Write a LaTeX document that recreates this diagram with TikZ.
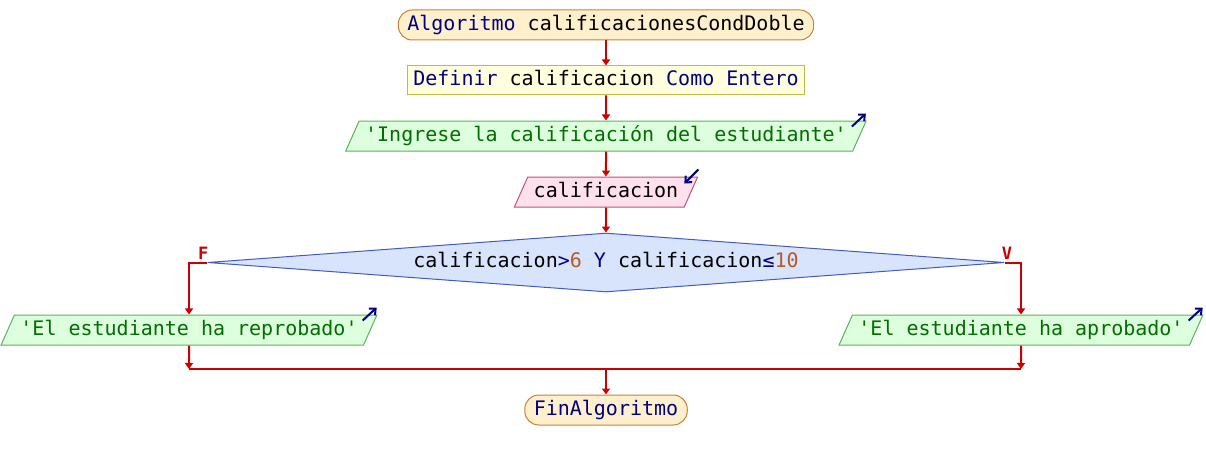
\documentclass[tikz,border=0pt]{standalone}
\usepackage{fontspec}
\setmonofont{DejaVu Sans Mono}
\usetikzlibrary{positioning, shapes.geometric, arrows.meta}
\definecolor{kwblue}{RGB}{0,0,130}
\definecolor{numbrown}{RGB}{180,90,40}
\definecolor{strgreen}{RGB}{0,110,0}
\definecolor{flowred}{RGB}{204,0,0}
\definecolor{termfill}{RGB}{255,240,205}
\definecolor{termline}{RGB}{200,130,50}
\definecolor{deffill}{RGB}{255,255,221}
\definecolor{defline}{RGB}{190,190,70}
\definecolor{outfill}{RGB}{222,255,222}
\definecolor{outline}{RGB}{90,180,90}
\definecolor{infill}{RGB}{255,225,238}
\definecolor{inline}{RGB}{190,80,130}
\definecolor{decfill}{RGB}{215,228,252}
\definecolor{decline}{RGB}{70,90,190}
\newcommand{\kw}[1]{\textcolor{kwblue}{#1}}
\newcommand{\nm}[1]{\textcolor{numbrown}{#1}}
\newcommand{\qt}{\char"0027\relax}

\begin{document}
\begin{tikzpicture}[x=0.5pt,y=-0.5pt,node distance=12.5pt,>={Triangle[width=4pt,length=3pt]},
  code/.style={font=\ttfamily\fontsize{10pt}{12pt}\selectfont,text height=7.6pt,text depth=2.2pt,inner ysep=2.6pt,line width=.5pt},
  termbox/.style={code,draw=termline,fill=termfill,rounded corners=7pt,inner xsep=4.5pt},
  defbox/.style={code,draw=defline,fill=deffill,inner xsep=3pt,inner ysep=2.35pt},
  slanted/.style={code,trapezium,trapezium left angle=66,trapezium right angle=114,inner xsep=3pt},
  outbox/.style={slanted,draw=outline,fill=outfill,text=strgreen},
  inbox/.style={slanted,draw=inline,fill=infill},
  decbox/.style={code,diamond,draw=decline,fill=decfill,inner sep=0pt,aspect=13,minimum width=398.5pt,minimum height=29.5pt},
  flow/.style={draw=flowred,line width=1pt},
  flowlabel/.style={font=\ttfamily\bfseries\fontsize{8.5pt}{9pt}\selectfont,text=flowred,inner sep=1pt},
  icon/.style={draw=kwblue,line width=1pt,-{Straight Barb[length=2.5pt,width=4.5pt]}}]
\useasboundingbox (0,0) rectangle (1206,460);

\node [termbox] (inicio) at (606,25) {\kw{Algoritmo} calificacionesCondDoble};
\node [defbox, below=of inicio] (definir) {\kw{Definir} calificacion \kw{Como} \kw{Entero}};
\node [outbox, below=of definir] (pedir) {\qt Ingrese la calificación del estudiante\qt};
\node [inbox, below=of pedir] (leer) {calificacion};
\node [decbox, below=of leer] (cond) {calificacion\kw{>}\nm{6} \kw{Y} calificacion\kw{≤}\nm{10}};
\node [outbox] (reprobado) at (189,330) {\qt El estudiante ha reprobado\qt};
\node [outbox] (aprobado) at (1021,330) {\qt El estudiante ha aprobado\qt};
\coordinate (unionF) at (189,369);
\coordinate (unionV) at (1021,369);
\coordinate (unionC) at (606,369);
\node [termbox] (fin) at (606,410) {\kw{FinAlgoritmo}};

% flechas de entrada y salida
\draw [icon] ([shift={(-15,6)}]pedir.top right corner) -- ++(14,-13);
\draw [icon] ([shift={(0,-7)}]leer.top right corner) -- ++(-14,14);
\draw [icon] ([shift={(-15,6)}]reprobado.top right corner) -- ++(14,-13);
\draw [icon] ([shift={(-15,6)}]aprobado.top right corner) -- ++(14,-13);

\draw [flow,->] (inicio) -- (definir);
\draw [flow,->] (definir) -- (pedir);
\draw [flow,->] (pedir) -- (leer);
\draw [flow,->] (leer) -- (cond);
\draw [flow,->] (cond.west) -| node [flowlabel,pos=0.5,anchor=south west,xshift=3pt] {F} (reprobado.north);
\draw [flow,->] (cond.east) -| node [flowlabel,pos=0.5,anchor=south east,xshift=-3pt] {V} (aprobado.north);
\draw [flow,->] (reprobado.south) -- (unionF);
\draw [flow,->] (aprobado.south) -- (unionV);
\draw [flow] (unionF) -- (unionV);
\draw [flow,->] (unionC) -- (fin);
\end{tikzpicture}
\end{document}
